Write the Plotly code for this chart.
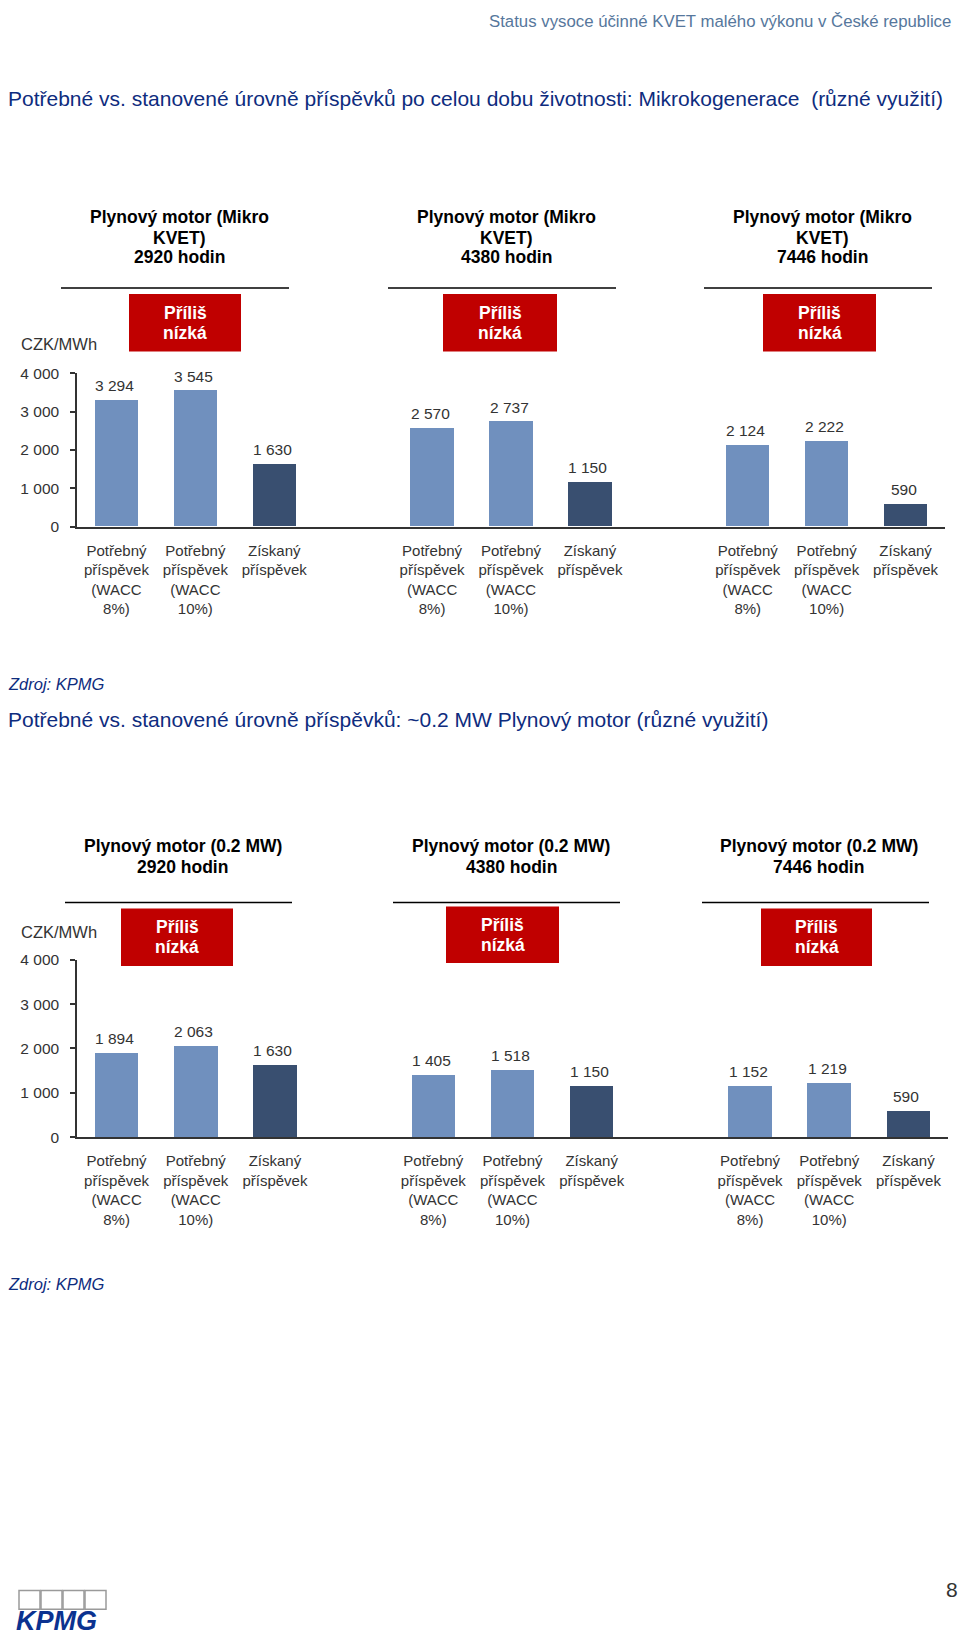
import plotly.graph_objects as go

# ---------------- data ----------------
hour_groups = ["2920 hodin", "4380 hodin", "7446 hodin"]
bar_labels = [
    "Potřebný<br>příspěvek<br>(WACC<br>8%)",
    "Potřebný<br>příspěvek<br>(WACC<br>10%)",
    "Získaný<br>příspěvek",
]
micro_wacc8 = [3294, 2570, 2124]
micro_wacc10 = [3545, 2737, 2222]
micro_obtained = [1630, 1150, 590]
gas_wacc8 = [1894, 1405, 1152]
gas_wacc10 = [2063, 1518, 1219]
gas_obtained = [1630, 1150, 590]
y_ticks = [0, 1000, 2000, 3000, 4000]

page_header = "Status vysoce účinné KVET malého výkonu v České republice"
title_top = "Potřebné vs. stanovené úrovně příspěvků po celou dobu životnosti: Mikrokogenerace  (různé využití)"
title_bottom = "Potřebné vs. stanovené úrovně příspěvků: ~0.2 MW Plynový motor (různé využití)"
head_top = ["Plynový motor (Mikro", "KVET)", "{}"]
head_bottom = ["Plynový motor (0.2 MW)", "{}"]
flag_lines = ["Příliš", "nízká"]
unit_text = "CZK/MWh"
source_text = "Zdroj: KPMG"

# ---------------- styling ----------------
W, H = 960, 1637
FONT = "Liberation Sans, Arial, Helvetica, sans-serif"
LIGHT = "#7090BE"
DARK = "#394F70"
RED = "#C00000"
NAVY = "#0E2C7E"
GREY = "#333333"


def px(x):
    return x / W


def py(y):
    return 1 - y / H


fig = go.Figure()

series_sets = [
    ("x", "y", [micro_wacc8, micro_wacc10, micro_obtained]),
    ("x2", "y2", [gas_wacc8, gas_wacc10, gas_obtained]),
]
annotations = []
for xa, ya, series in series_sets:
    for k, vals in enumerate(series):
        xs = [4 * g + k for g in range(len(vals))]
        fig.add_trace(go.Bar(
            x=xs, y=vals, xaxis=xa, yaxis=ya, width=0.55,
            marker=dict(color=DARK if k == 2 else LIGHT, line=dict(width=0)),
            showlegend=False, hoverinfo="skip",
        ))
        for xv, v in zip(xs, vals):
            annotations.append(dict(
                x=xv, y=v, xref=xa, yref=ya, yanchor="bottom", xanchor="center",
                yshift=4, xshift=-2, showarrow=False,
                text=f"{v:,}".replace(",", " "),
                font=dict(family=FONT, size=15.5, color=GREY),
            ))

tickvals = [4 * g + k for g in range(3) for k in range(3)]
ticktext = [bar_labels[k] for g in range(3) for k in range(3)]

xcommon = dict(
    range=[-0.5, 10.5], tickvals=tickvals, ticktext=ticktext, tickangle=0,
    showline=True, linecolor=GREY, linewidth=2, ticks="", showgrid=False,
    zeroline=False, ticklabelstandoff=9,
    tickfont=dict(family=FONT, size=15, color=GREY), fixedrange=True,
)
ycommon = dict(
    range=[0, 4000], tickvals=y_ticks, tickformat=",", ticks="outside",
    ticklen=5, tickwidth=1.5, tickcolor=GREY, showline=True, linecolor=GREY,
    linewidth=1.5, showgrid=False, zeroline=False, ticklabelstandoff=8,
    tickfont=dict(family=FONT, size=15.5, color=GREY), fixedrange=True,
)

fig.update_layout(
    width=W, height=H,
    margin=dict(l=0, r=0, t=0, b=0),
    paper_bgcolor="white", plot_bgcolor="white",
    separators=". ",
    bargap=0,
    xaxis=dict(domain=[px(77), px(945)], anchor="y", **xcommon),
    yaxis=dict(domain=[py(523), py(368)], anchor="x", **ycommon),
    xaxis2=dict(domain=[px(77), px(948)], anchor="y2", **xcommon),
    yaxis2=dict(domain=[py(1140), py(960.7)], anchor="x2", **ycommon),
)

shapes = []


def text_at(x, y, text, size, color, xanchor="left", bold=False, italic=False):
    if bold:
        text = f"<b>{text}</b>"
    if italic:
        text = f"<i>{text}</i>"
    return dict(x=px(x), y=py(y), xref="paper", yref="paper", xanchor=xanchor,
                yanchor="middle", text=text, showarrow=False,
                font=dict(family=FONT, size=size, color=color))


# page header / titles / sources
annotations += [
    text_at(953, 13, page_header, 16.8, "#56779C", xanchor="right"),
    text_at(6, 90, title_top, 21, NAVY),
    text_at(6, 682, source_text, 16.5, NAVY, italic=True),
    text_at(6, 718, title_bottom, 21, NAVY),
    text_at(6, 1288, source_text, 16.5, NAVY, italic=True),
    text_at(19, 339, unit_text, 16.5, GREY),
    text_at(19, 933, unit_text, 16.5, GREY),
]

# group headers, underline and "Příliš nízká" flags
top_layout = dict(
    head_cx=[179.5, 506, 822], head_y=[210, 231, 251], tmpl=head_top,
    line_x=[(61, 289), (388, 616), (704, 932)], line_y=282,
    boxes=[(129, 241, 288, 346), (443, 557, 288, 346), (763, 876, 288, 346)],
)
bottom_layout = dict(
    head_cx=[182.5, 511, 818.5], head_y=[846, 867], tmpl=head_bottom,
    line_x=[(65, 292), (393, 620), (702, 929)], line_y=903,
    boxes=[(121, 233, 909, 967), (446, 559, 907, 964), (761, 872, 909, 967)],
)
for lay in (top_layout, bottom_layout):
    for g, name in enumerate(hour_groups):
        for line, yy in zip(lay["tmpl"], lay["head_y"]):
            annotations.append(text_at(lay["head_cx"][g], yy, line.format(name), 17.5,
                                       "black", xanchor="center", bold=True))
        x0, x1 = lay["line_x"][g]
        shapes.append(dict(type="line", xref="paper", yref="paper",
                           x0=px(x0), x1=px(x1), y0=py(lay["line_y"]), y1=py(lay["line_y"]),
                           line=dict(color="black", width=1.5)))
        bx0, bx1, by0, by1 = lay["boxes"][g]
        shapes.append(dict(type="rect", xref="paper", yref="paper",
                           x0=px(bx0), x1=px(bx1), y0=py(by1), y1=py(by0),
                           fillcolor=RED, line=dict(width=0), layer="above"))
        cy = (by0 + by1) / 2
        for line, dy in zip(flag_lines, (-10, 10)):
            annotations.append(text_at((bx0 + bx1) / 2, cy + dy, line, 17.5, "white",
                                       xanchor="center", bold=True))

# footer: KPMG logo and page number
for i in range(4):
    x0 = 19 + 22 * i
    shapes.append(dict(type="rect", xref="paper", yref="paper",
                       x0=px(x0), x1=px(x0 + 21), y0=py(1617), y1=py(1598),
                       fillcolor="white", line=dict(color="#9A9A9A", width=1.5)))
annotations += [
    text_at(14, 1629, "<i>KPMG</i>", 27, "#0B3290", bold=True),
    text_at(952, 1597, "8", 21, GREY, xanchor="center"),
]

fig.update_layout(annotations=annotations, shapes=shapes)
fig.write_html("out.html")
